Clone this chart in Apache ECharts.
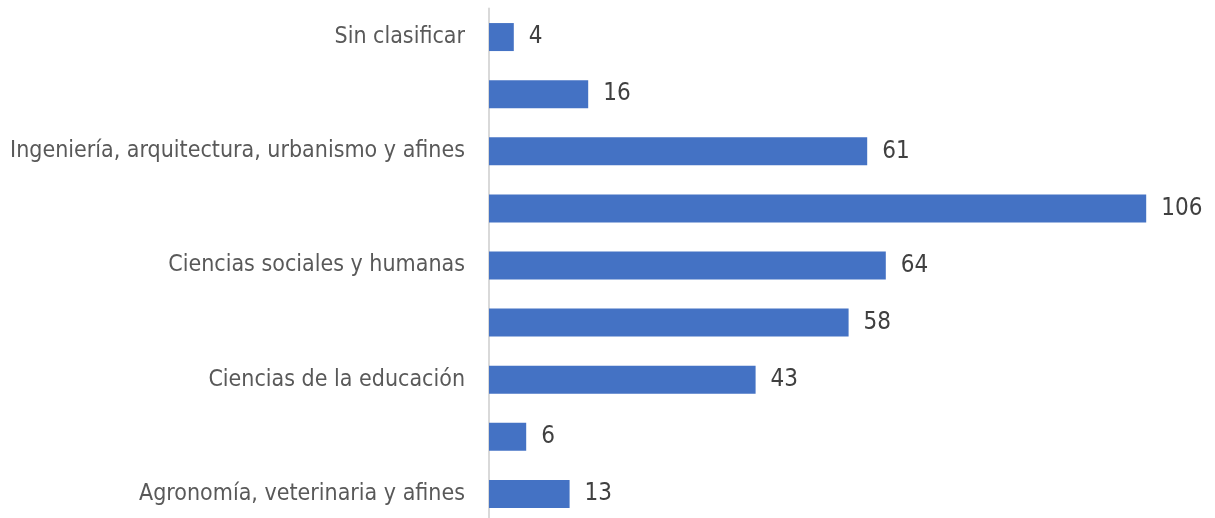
<!DOCTYPE html>
<html>
<head>
<meta charset="utf-8">
<script src="https://cdn.jsdelivr.net/npm/echarts@6/dist/echarts.min.js"></script>
<style>
  html, body { margin: 0; padding: 0; background: #fff; }
  #chart { width: 1215px; height: 518px; }
</style>
</head>
<body>
<div id="chart"></div>
<script>
// bottom to top, as the axis draws them
const areas = [
  'Agronomía, veterinaria y afines',
  'Bellas artes',
  'Ciencias de la educación',
  'Ciencias de la salud',
  'Ciencias sociales y humanas',
  'Economía, administración, contaduría y afines',
  'Ingeniería, arquitectura, urbanismo y afines',
  'Matemáticas y ciencias naturales',
  'Sin clasificar'
]
const programas = [13, 6, 43, 58, 64, 106, 61, 16, 4]

const font = '"Liberation Sans Narrow", "DejaVu Sans Condensed", sans-serif'

const ec = echarts.init(document.getElementById('chart'))
ec.setOption({
  animation: false,
  grid: {
    left: 489,
    right: 44,
    top: 8.5,
    height: 514,
    outerBoundsMode: 'none',
    containLabel: false
  },
  xAxis: {
    type: 'value',
    min: 0,
    max: 110,
    show: false
  },
  yAxis: {
    type: 'category',
    data: areas,
    axisLine: {lineStyle: {color: '#d9d9d9', width: 2}},
    axisTick: {show: false},
    axisLabel: {
      interval: 1,
      margin: 24,
      color: '#595959',
      fontFamily: font,
      fontSize: 23
    }
  },
  series: [
    {
      type: 'bar',
      data: programas,
      barWidth: 28,
      itemStyle: {color: '#4472c4'},
      label: {
        show: true,
        position: 'right',
        distance: 15,
        color: '#404040',
        fontFamily: font,
        fontSize: 24
      }
    }
  ]
})
</script>
</body>
</html>
